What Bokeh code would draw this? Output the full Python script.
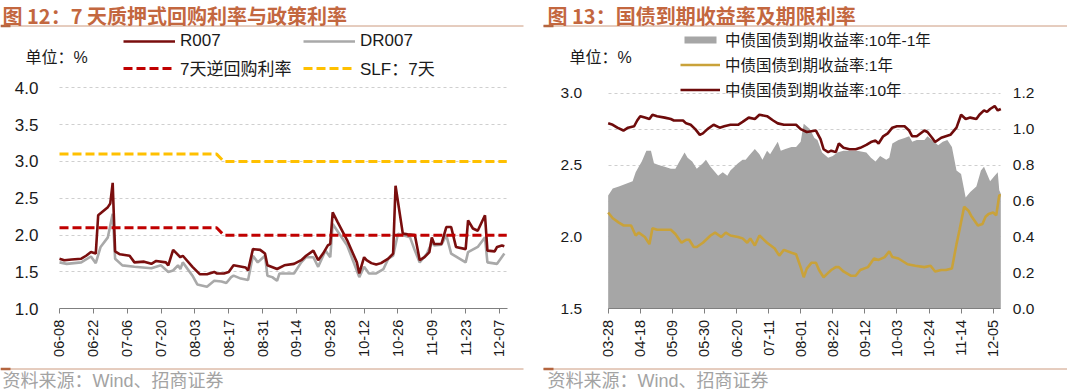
import math
import pandas as pd
from bokeh.plotting import figure
from bokeh.models import (Range1d, LinearAxis, FixedTicker, PrintfTickFormatter,
                          DatetimeTickFormatter, Legend, LegendItem, Label)
from bokeh.layouts import row
from bokeh.embed import file_html
from bokeh.resources import INLINE

YEAR = "2022-"

# ---------------- Left chart data (图12) ----------------
r007_dates = ["06-08","06-10","06-13","06-17","06-19","06-21","06-23","06-24","06-28","06-29",
              "06-30","07-01","07-03","07-07","07-09","07-13","07-16","07-18","07-22","07-23",
              "07-25","07-28","07-29","08-02","08-05","08-08","08-11","08-12","08-15","08-17",
              "08-19","08-24","08-25","08-27","08-30","09-01","09-02","09-06","09-09","09-13",
              "09-16","09-18","09-21","09-23","09-25","09-27","09-28","09-29","10-01","10-05",
              "10-09","10-10","10-12","10-13","10-15","10-17","10-19","10-22","10-24","10-25",
              "10-28","10-30","11-02","11-04","11-06","11-08","11-09","11-10","11-13","11-15",
              "11-17","11-19","11-23","11-24","11-26","11-28","12-01","12-02","12-05","12-06",
              "12-08","12-09"]
r007 = [1.68,1.66,1.67,1.68,1.72,1.77,1.75,2.27,2.38,2.43,
        2.71,1.78,1.74,1.72,1.63,1.64,1.61,1.65,1.63,1.59,
        1.80,1.70,1.72,1.57,1.47,1.47,1.50,1.48,1.48,1.50,
        1.59,1.56,1.52,1.81,1.80,1.75,1.59,1.54,1.59,1.61,
        1.66,1.72,1.79,1.66,1.75,1.86,1.88,2.31,2.18,1.93,
        1.63,1.48,1.70,1.66,1.62,1.60,1.62,1.68,1.75,2.67,
        2.02,2.01,2.00,1.66,1.70,1.77,1.97,1.88,1.88,2.11,
        2.11,1.84,1.81,2.20,2.09,2.06,2.27,1.79,1.78,1.84,
        1.86,1.85]

dr007_dates = ["06-08","06-11","06-17","06-21","06-23","06-25","06-28","06-30","07-01","07-04",
               "07-09","07-16","07-20","07-23","07-25","07-27","07-28","07-29","08-02","08-04",
               "08-08","08-11","08-14","08-16","08-18","08-19","08-22","08-25","08-27","08-29",
               "09-01","09-02","09-04","09-06","09-07","09-10","09-13","09-16","09-18","09-21",
               "09-23","09-26","09-28","09-29","10-05","10-10","10-12","10-14","10-17","10-20",
               "10-22","10-24","10-26","10-31","11-02","11-04","11-07","11-09","11-10","11-13",
               "11-15","11-17","11-23","11-24","11-28","12-01","12-02","12-06","12-09"]
dr007 = [1.63,1.61,1.63,1.71,1.62,1.84,1.97,2.29,1.68,1.59,
         1.57,1.55,1.59,1.50,1.52,1.59,1.54,1.63,1.45,1.33,
         1.30,1.38,1.37,1.35,1.43,1.45,1.41,1.39,1.72,1.63,
         1.72,1.45,1.43,1.38,1.48,1.48,1.48,1.63,1.70,1.70,
         1.57,1.79,1.70,2.15,1.86,1.43,1.57,1.48,1.48,1.54,
         1.68,1.72,2.02,1.97,1.79,1.63,1.75,1.90,1.86,1.87,
         2.00,1.75,1.63,1.77,1.84,1.97,1.63,1.61,1.75]

policy_dates = ["06-08", "08-12", "08-15", "12-10"]
reverse_repo_7d = [2.10, 2.10, 2.00, 2.00]
slf_7d = [3.10, 3.10, 3.00, 3.00]

left_ticks = ["06-08","06-22","07-06","07-20","08-03","08-17","08-31","09-14",
              "09-28","10-12","10-26","11-09","11-23","12-07"]
left_yticks = [1.0, 1.5, 2.0, 2.5, 3.0, 3.5, 4.0]

# ---------------- Right chart data (图13) ----------------
y10_dates = ["03-28","03-31","04-03","04-07","04-10","04-14","04-16","04-18","04-21","04-24",
             "04-26","04-29","05-04","05-08","05-10","05-12","05-16","05-18","05-21","05-24",
             "05-27","05-29","06-01","06-05","06-09","06-12","06-16","06-21","06-24","06-28",
             "07-02","07-05","07-10","07-14","07-17","07-21","07-26","07-29","08-01","08-05",
             "08-11","08-14","08-16","08-19","08-21","08-24","08-26","08-29","09-02","09-06",
             "09-09","09-13","09-16","09-19","09-21","09-24","09-27","09-30","10-03","10-08",
             "10-11","10-13","10-16","10-21","10-23","10-26","10-28","11-01","11-04","11-07",
             "11-11","11-14","11-17","11-20","11-24","11-26","11-29","12-01","12-03","12-06",
             "12-08","12-10"]
y10 = [2.79,2.78,2.76,2.74,2.76,2.77,2.81,2.84,2.83,2.82,
       2.85,2.84,2.83,2.82,2.81,2.81,2.81,2.79,2.78,2.75,
       2.71,2.72,2.75,2.78,2.76,2.77,2.78,2.78,2.80,2.83,
       2.82,2.85,2.84,2.81,2.79,2.78,2.78,2.78,2.75,2.73,
       2.74,2.68,2.61,2.59,2.60,2.59,2.65,2.62,2.61,2.61,
       2.62,2.64,2.66,2.67,2.65,2.70,2.72,2.76,2.77,2.77,
       2.74,2.70,2.70,2.74,2.73,2.69,2.66,2.69,2.70,2.71,
       2.76,2.85,2.82,2.83,2.82,2.85,2.88,2.87,2.89,2.91,
       2.88,2.89]

y1_dates = ["03-28","03-31","04-04","04-07","04-12","04-15","04-17","04-21","04-24","04-26",
            "04-29","05-04","05-08","05-11","05-15","05-18","05-20","05-23","05-25","05-29",
            "06-03","06-06","06-10","06-13","06-16","06-21","06-24","06-27","06-29","07-02",
            "07-05","07-10","07-15","07-18","07-21","07-26","07-29","08-01","08-03","08-05",
            "08-08","08-11","08-13","08-16","08-19","08-21","08-24","08-26","08-29","09-03",
            "09-06","09-09","09-14","09-18","09-21","09-25","09-28","09-30","10-04","10-10",
            "10-15","10-21","10-25","10-28","11-01","11-04","11-08","11-11","11-13","11-16",
            "11-19","11-21","11-25","11-28","11-30","12-02","12-05","12-07","12-09","12-10"]
y1 = [2.17,2.13,2.10,2.08,2.08,2.01,2.03,2.00,1.95,2.06,
      2.05,2.05,2.05,2.02,1.96,1.98,1.98,1.93,1.93,1.96,
      2.01,2.03,2.00,2.03,2.01,2.00,1.99,1.96,1.99,1.94,
      2.01,1.96,1.92,1.87,1.91,1.89,1.88,1.79,1.72,1.78,
      1.82,1.82,1.77,1.72,1.75,1.77,1.79,1.79,1.76,1.73,
      1.73,1.77,1.79,1.85,1.84,1.86,1.90,1.86,1.85,1.81,
      1.80,1.79,1.80,1.76,1.77,1.77,1.78,1.95,2.05,2.21,
      2.18,2.14,2.08,2.09,2.14,2.16,2.17,2.15,2.29,2.29]

spread_dates = ["03-28","03-31","04-04","04-10","04-13","04-15","04-17","04-19","04-22","04-25",
                "04-27","04-30","05-04","05-08","05-11","05-13","05-17","05-19","05-22","05-25",
                "05-29","05-31","06-03","06-08","06-11","06-14","06-16","06-21","06-24","06-26",
                "06-28","07-02","07-05","07-07","07-10","07-12","07-17","07-19","07-22","07-26",
                "07-29","08-01","08-03","08-07","08-10","08-12","08-15","08-19","08-22","08-25",
                "08-29","09-03","09-07","09-13","09-16","09-19","09-22","09-26","09-28","09-30",
                "10-04","10-08","10-11","10-13","10-16","10-21","10-23","10-26","10-30","11-02",
                "11-05","11-08","11-11","11-14","11-17","11-20","11-24","11-27","11-29","12-01",
                "12-03","12-06","12-08","12-09","12-10"]
spread = [0.63,0.67,0.68,0.70,0.71,0.76,0.79,0.82,0.88,0.88,
          0.81,0.80,0.79,0.78,0.78,0.81,0.87,0.84,0.82,0.78,
          0.81,0.83,0.79,0.74,0.76,0.74,0.77,0.81,0.83,0.83,
          0.85,0.89,0.86,0.83,0.88,0.86,0.93,0.88,0.89,0.90,
          0.90,0.93,1.03,1.00,0.95,0.94,0.87,0.84,0.85,0.87,
          0.88,0.88,0.88,0.87,0.84,0.82,0.85,0.83,0.84,0.92,
          0.94,0.95,0.96,0.93,0.94,0.94,0.96,0.94,0.91,0.93,
          0.94,0.90,0.77,0.75,0.62,0.65,0.68,0.77,0.79,0.75,
          0.71,0.74,0.76,0.66,0.64]

right_ticks = ["03-28","04-18","05-09","05-30","06-20","07-11","08-01","08-22",
               "09-12","10-03","10-24","11-14","12-05"]
right_left_yticks = [1.5, 2.0, 2.5, 3.0]
right_right_yticks = [0.0, 0.2, 0.4, 0.6, 0.8, 1.0, 1.2]

# ---------------- styling constants ----------------
LATIN = "Liberation Sans"
CJK = "Noto Sans CJK SC"
MIX = "Liberation Sans, Noto Sans CJK SC"
TITLE_COLOR = "#C3673F"
RULE_COLOR = "#CC9A7E"
STUB_COLOR = "#B4653F"
TEXT_COLOR = "#1a1a1a"
H = 391


def dt(lst):
    return pd.to_datetime([YEAR + s for s in lst])


def ms1(s):
    return pd.Timestamp(YEAR + s).value / 1e6


def ms(lst):
    return [ms1(s) for s in lst]


class PixMap:
    """maps figure pixel positions (from top-left) to data coordinates"""
    def __init__(self, d0, px0, d1, px1, v_top, py_top, v_bot, py_bot):
        self.t0 = ms1(d0)
        self.px0 = px0
        self.ms_per_px = (ms1(d1) - self.t0) / (px1 - px0)
        self.v_top, self.py_top = v_top, py_top
        self.per_px = (v_top - v_bot) / (py_bot - py_top)

    def X(self, fx):
        return self.t0 + (fx - self.px0) * self.ms_per_px

    def Y(self, fy):
        return self.v_top - (fy - self.py_top) * self.per_px


def fmt_dates():
    f = "%m-%d"
    return DatetimeTickFormatter(microseconds=f, milliseconds=f, seconds=f, minsec=f,
                                 minutes=f, hourmin=f, hours=f, days=f, months=f, years=f)


def make_fig(width, m):
    p = figure(width=width, height=H, x_axis_type="datetime", output_backend="svg",
               toolbar_location=None,
               x_range=Range1d(m.X(0), m.X(width)), y_range=Range1d(m.Y(H), m.Y(0)),
               min_border_left=0, min_border_right=0, min_border_top=0, min_border_bottom=0)
    p.outline_line_color = None
    p.background_fill_color = "white"
    p.border_fill_color = "white"
    p.xgrid.visible = False
    return p


def style_axes(p, tick_dates, x_start, x_end, y_base, ylab_size, ystandoff):
    xa = p.xaxis[0]
    xa.fixed_location = y_base
    xa.bounds = (x_start, x_end)
    xa.ticker = FixedTicker(ticks=ms(tick_dates))
    xa.formatter = fmt_dates()
    xa.major_label_orientation = math.pi / 2
    xa.major_label_text_font = LATIN
    xa.major_label_text_font_size = "14.5px"
    xa.major_label_text_color = TEXT_COLOR
    xa.axis_line_color = "#7f7f7f"
    xa.major_tick_line_color = "#7f7f7f"
    xa.major_tick_in = 0
    xa.major_tick_out = 5
    xa.minor_tick_line_color = None
    xa.major_label_standoff = 6
    ya = p.yaxis[0]
    ya.fixed_location = x_start
    ya.axis_line_color = None
    ya.major_tick_line_color = None
    ya.minor_tick_line_color = None
    ya.major_tick_out = 0
    ya.major_tick_in = 0
    ya.major_label_standoff = ystandoff
    ya.major_label_text_font = LATIN
    ya.major_label_text_font_size = ylab_size
    ya.major_label_text_color = TEXT_COLOR
    ya.formatter = PrintfTickFormatter(format="%.1f")
    p.ygrid.grid_line_color = "#cfcfcf"
    p.ygrid.grid_line_dash = "3 3"
    p.ygrid.grid_line_width = 1
    p.ygrid.cross_bounds = (x_start, x_end)


def rule(p, m, fx0, fx1, fy):
    # thin separator with a short darker stub at its left end
    p.segment(x0=[m.X(fx0)], y0=[m.Y(fy)], x1=[m.X(fx1)], y1=[m.Y(fy)],
              line_color=RULE_COLOR, line_width=1)
    p.segment(x0=[m.X(fx0)], y0=[m.Y(fy)], x1=[m.X(fx0 + 10)], y1=[m.Y(fy)],
              line_color=STUB_COLOR, line_width=2.5)


def text(p, m, fx, fy, s, font, size, color, baseline="middle", bold=False):
    p.add_layout(Label(x=m.X(fx), y=m.Y(fy), text=s, text_font=font, text_font_size=size,
                       text_font_style="bold" if bold else "normal", text_color=color,
                       text_align="left", text_baseline=baseline))


def decorate(p, m, title, tx, rule_x0, rule_x1):
    text(p, m, tx, 0.5, title, CJK, "20px", TITLE_COLOR, baseline="top", bold=True)
    rule(p, m, rule_x0, rule_x1, 25.5)
    rule(p, m, rule_x0, rule_x1, 368.5)
    text(p, m, tx, 380, "资料来源：Wind、招商证券", MIX, "18px", "#a3a3a3")


# ---------------- Left figure ----------------
W1 = 537
m1 = PixMap("06-08", 59.0, "12-07", 499.0, 4.0, 87.3, 1.0, 308.3)
p1 = make_fig(W1, m1)
x1_start, x1_end = ms1("06-08"), m1.X(507.0)
style_axes(p1, left_ticks, x1_start, x1_end, 1.0, "17px", 21)
p1.yaxis[0].ticker = FixedTicker(ticks=left_yticks)
p1.ygrid.ticker = FixedTicker(ticks=left_yticks[1:])

r_dr = p1.line(dt(dr007_dates), dr007, line_color="#A9A9A9", line_width=2.6)
r_r = p1.line(dt(r007_dates), r007, line_color="#7A0E0E", line_width=2.6)
r_rr = p1.line(dt(policy_dates), reverse_repo_7d, line_color="#C00000", line_width=3,
               line_dash="9 4")
r_slf = p1.line(dt(policy_dates), slf_7d, line_color="#FFC000", line_width=3,
                line_dash="9 4")

leg_kw = dict(orientation="horizontal", border_line_color=None, background_fill_alpha=0,
              padding=0, margin=0, glyph_width=52, glyph_height=20, label_standoff=5,
              label_width=113, label_height=20, spacing=10,
              label_text_font=MIX, label_text_font_size="17px", label_text_color=TEXT_COLOR)
leg_a = Legend(items=[LegendItem(label="R007", renderers=[r_r]),
                      LegendItem(label="DR007", renderers=[r_dr])],
               location=(123, H - 51), **leg_kw)
leg_b = Legend(items=[LegendItem(label="7天逆回购利率", renderers=[r_rr]),
                      LegendItem(label="SLF：7天", renderers=[r_slf])],
               location=(123, H - 80), **leg_kw)
p1.add_layout(leg_a)
p1.add_layout(leg_b)
text(p1, m1, 25, 57, "单位：%", MIX, "16px", TEXT_COLOR)
decorate(p1, m1, "图 12：7 天质押式回购利率与政策利率", 2, 0, 523)

# ---------------- Right figure ----------------
W2 = 530
m2 = PixMap("03-28", 70.67, "12-05", 455.67, 3.0, 92.67, 1.5, 308.33)
p2 = make_fig(W2, m2)
x2_start, x2_end = ms1("03-28"), ms1("12-10")
# right-hand scale shares the same pixel span: 1.2 at the 3.0 line, 0.0 at the 1.5 line
sp_per_px = 1.2 / (308.33 - 92.67)
p2.extra_y_ranges = {"spread": Range1d(0.0 - (H - 308.33) * sp_per_px, 1.2 + 92.67 * sp_per_px)}
style_axes(p2, right_ticks, x2_start, x2_end, 1.5, "15.5px", 26)
p2.yaxis[0].ticker = FixedTicker(ticks=right_left_yticks)
p2.ygrid.ticker = FixedTicker(ticks=[1.5 + v * 1.25 for v in right_right_yticks[1:]])

ra = LinearAxis(y_range_name="spread", ticker=FixedTicker(ticks=right_right_yticks),
                formatter=PrintfTickFormatter(format="%.1f"), fixed_location=x2_end)
ra.axis_line_color = None
ra.major_tick_line_color = None
ra.minor_tick_line_color = None
ra.major_tick_out = 0
ra.major_tick_in = 0
ra.major_label_standoff = 12
ra.major_label_text_font = LATIN
ra.major_label_text_font_size = "15.5px"
ra.major_label_text_color = TEXT_COLOR
p2.add_layout(ra, "right")

r_sp = p2.varea(x=dt(spread_dates), y1=[0.0] * len(spread), y2=spread,
                y_range_name="spread", fill_color="#A6A6A6")
r_1y = p2.line(dt(y1_dates), y1, line_color="#C9A23A", line_width=2.6)
r_10y = p2.line(dt(y10_dates), y10, line_color="#6E0B0B", line_width=2.6)

leg_r = Legend(items=[LegendItem(label="中债国债到期收益率:10年-1年", renderers=[r_sp]),
                      LegendItem(label="中债国债到期收益率:1年", renderers=[r_1y]),
                      LegendItem(label="中债国债到期收益率:10年", renderers=[r_10y])],
               orientation="vertical", location=(143, H - 100), border_line_color=None,
               background_fill_alpha=0, padding=0, margin=0, glyph_width=40, glyph_height=9,
               label_standoff=5, label_height=20, spacing=3,
               label_text_font=MIX, label_text_font_size="15.5px", label_text_color=TEXT_COLOR)
p2.add_layout(leg_r)
text(p2, m2, 32, 57, "单位：%", MIX, "16px", TEXT_COLOR)
decorate(p2, m2, "图 13：国债到期收益率及期限利率", 10, 6, W2)

layout = row(p1, p2, spacing=0)
open("out.html", "w").write(file_html(layout, INLINE))
